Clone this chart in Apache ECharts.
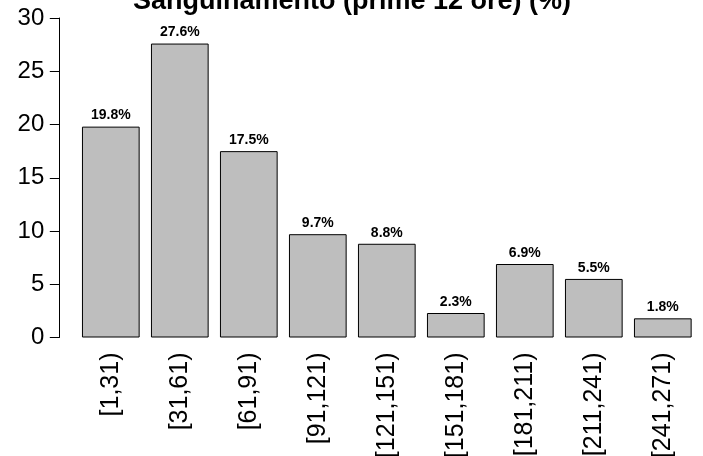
<!DOCTYPE html>
<html>
<head>
<meta charset="utf-8">
<script src="https://cdn.jsdelivr.net/npm/echarts@6/dist/echarts.min.js"></script>
<style>html,body{margin:0;padding:0;background:#fff}#c{width:703px;height:456px}</style>
</head>
<body>
<div id="c"></div>
<script>
var titleText = "Sanguinamento (prime 12 ore) (%)";
var categories = ["[1,31)", "[31,61)", "[61,91)", "[91,121)", "[121,151)", "[151,181)", "[181,211)", "[211,241)", "[241,271)"];
var values = [19.8, 27.6, 17.5, 9.7, 8.8, 2.3, 6.9, 5.5, 1.8];
var yTicks = [0, 5, 10, 15, 20, 25, 30];

var FONT = "Liberation Sans, Arial, Helvetica, sans-serif";
var chart = echarts.init(document.getElementById('c'), null, {renderer: 'canvas'});
chart.setOption({
  backgroundColor: '#ffffff',
  animation: false,
  title: {
    text: titleText,
    left: 347,
    textAlign: 'center',
    top: -17,
    textStyle: {fontFamily: FONT, fontWeight: 'bold', fontSize: 27, color: '#000'}
  },
  grid: {left: 76.3, right: 5.7, top: 18, bottom: 118.5, containLabel: false, outerBoundsMode: 'none'},
  xAxis: {
    type: 'category',
    data: categories,
    axisLine: {show: false},
    axisTick: {show: false},
    axisLabel: {rotate: 90, margin: 15, fontFamily: FONT, fontSize: 25, color: '#000', interval: 0}
  },
  yAxis: {
    type: 'value',
    min: yTicks[0],
    max: yTicks[yTicks.length - 1],
    interval: 5,
    offset: 17,
    splitLine: {show: false},
    axisLine: {show: true, lineStyle: {color: '#000', width: 1}},
    axisTick: {show: true, length: 9.5, lineStyle: {color: '#000', width: 1}},
    axisLabel: {margin: 15, fontFamily: FONT, fontSize: 24, color: '#000'}
  },
  series: [{
    type: 'bar',
    data: values,
    barCategoryGap: '16.4%',
    itemStyle: {color: '#bebebe', borderColor: '#000', borderWidth: 1},
    label: {
      show: true,
      position: 'top',
      distance: 4,
      formatter: function (p) { return p.value.toFixed(1) + '%'; },
      fontFamily: FONT, fontWeight: 'bold', fontSize: 14, color: '#000'
    }
  }]
});
</script>
</body>
</html>
